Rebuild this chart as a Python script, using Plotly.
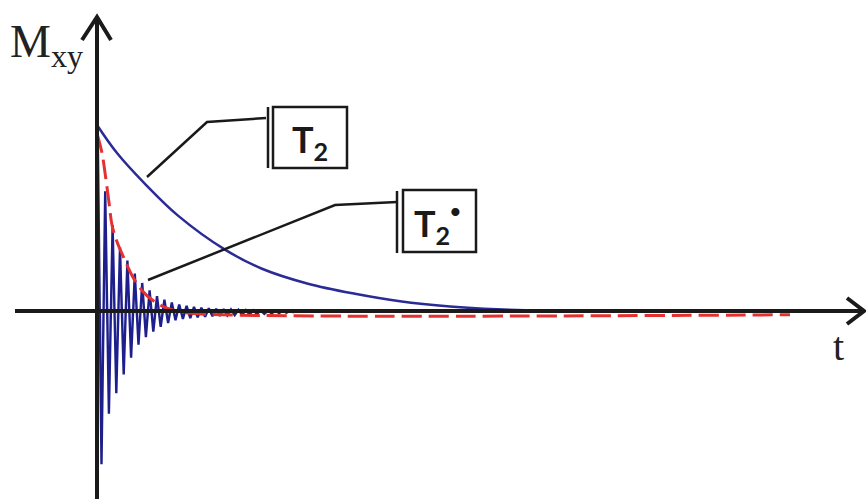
"""FID / T2 と T2* の減衰を示す模式図 (Plotly)."""

import plotly.graph_objects as go

# T2 減衰曲線 (横: 時間 t, 縦: Mxy, 初期値 ≈ 1)
t2_time = [0, 2, 4.8, 8.1, 12.8, 16.5, 21.1, 25.8, 30.3, 35.3, 40, 45, 50, 60, 69.3]
t2_mxy = [0.995, 0.845, 0.68, 0.51, 0.328, 0.226, 0.146, 0.092, 0.052, 0.024, 0.009,
          0.002, 0.0, 0.0, 0.0]

# T2* 包絡線 (赤破線)
t2s_time = [0, 0.5, 0.8, 1.2, 1.5, 2, 2.8, 3.5, 4.5, 5.5, 6.8, 8, 10, 69.3]
t2s_mxy = [0.95, 0.845, 0.74, 0.58, 0.46, 0.37, 0.27, 0.19, 0.11, 0.06, 0.02, 0.0, -0.015, -0.02]

# FID の極値 (正負が交互)
fid_time = [0.08, 0.45, 0.82, 1.19, 1.56, 1.93, 2.30, 2.67, 3.04, 3.41, 3.78, 4.15,
            4.52, 4.89, 5.26, 5.63, 6.00, 6.37, 6.74, 7.11, 7.48, 7.85, 8.22, 8.59,
            8.96, 9.33, 9.70, 10.07, 10.44, 10.81, 11.18, 11.55, 11.92, 12.29, 12.66,
            13.03, 13.40, 13.77, 14.14, 14.51, 14.88, 15.25, 15.62, 15.99, 16.36,
            16.73, 17.10, 17.47, 17.84, 18.21, 18.58, 18.95, 19.32, 19.69]
fid_mxy = [0.93, -0.82, 0.64, -0.55, 0.46, -0.44, 0.34, -0.34, 0.27, -0.25, 0.20, -0.18,
           0.15, -0.14, 0.11, -0.11, 0.08, -0.085, 0.06, -0.065, 0.045, -0.05, 0.035, -0.042,
           0.028, -0.038, 0.022, -0.034, 0.018, -0.031, 0.015, -0.028, 0.012, -0.026, 0.010,
           -0.024, 0.008, -0.022, 0.006, -0.020, 0.005, -0.018, 0.004, -0.016, 0.003,
           -0.015, 0.002, -0.013, 0.002, -0.011, 0.001, -0.009, 0.001, -0.007]

W, H = 866, 499
X0, Y0 = 97, 311          # 原点のピクセル位置
SX, SY = 10, 187          # 1 単位あたりのピクセル


def px(x):
    return (x - X0) / SX


def py(y):
    return (Y0 - y) / SY


BLUE = "#2b2b95"
FID_BLUE = "#1e1e8c"
RED = "#e53030"
INK = "#1a1a1a"

fig = go.Figure()

fig.add_trace(go.Scatter(
    x=fid_time, y=fid_mxy, mode="lines",
    line={"color": FID_BLUE, "width": 2.4},
    fill="tozeroy", fillcolor="rgba(70, 70, 180, 0.18)",
    hoverinfo="skip",
))
fig.add_trace(go.Scatter(
    x=t2s_time, y=t2s_mxy, mode="lines",
    line={"color": RED, "width": 3, "dash": "20px,7px", "shape": "spline"},
    hoverinfo="skip",
))
fig.add_trace(go.Scatter(
    x=t2_time, y=t2_mxy, mode="lines",
    line={"color": BLUE, "width": 2.5, "shape": "spline"},
    hoverinfo="skip",
))


def seg(points, width=2.5, color=INK):
    path = "M " + " L ".join(f"{px(a)},{py(b)}" for a, b in points)
    fig.add_shape(type="path", path=path, xref="x", yref="y",
                  line={"color": color, "width": width})


# 座標軸と矢印
seg([(97, 499), (97, 18)], width=4)
seg([(82, 40), (97, 17), (111, 40)], width=4)
seg([(15, 311), (862, 311)], width=4)
seg([(847, 298), (864, 311), (847, 324)], width=4)

# 引き出し線とラベル枠
seg([(147, 177), (207, 122), (266, 118)])
seg([(268, 107), (268, 168)])
fig.add_shape(type="rect", x0=px(273), x1=px(347), y0=py(107), y1=py(168),
              line={"color": INK, "width": 2.5})

seg([(148, 280), (335, 205), (397, 202)])
seg([(397, 191), (397, 253)])
fig.add_shape(type="rect", x0=px(403), x1=px(476), y0=py(190), y1=py(252),
              line={"color": INK, "width": 2.5})

LABEL_FONT = {"family": "Lato", "size": 36, "color": INK, "weight": "bold"}
fig.add_annotation(x=px(310), y=py(141), text="T<sub>2</sub>", showarrow=False,
                   font=LABEL_FONT, xanchor="center", yanchor="middle")
fig.add_annotation(x=px(432), y=py(225), text="T<sub>2</sub>", showarrow=False,
                   font=LABEL_FONT, xanchor="center", yanchor="middle")
fig.add_annotation(x=px(455), y=py(210), text="•", showarrow=False,
                   font={"family": "Lato", "size": 22, "color": INK},
                   xanchor="center", yanchor="middle")

fig.add_annotation(x=px(8), y=py(45), text="M<sub>xy</sub>", showarrow=False,
                   font={"family": "Liberation Serif", "size": 46, "color": "#222"},
                   xanchor="left", yanchor="middle")
fig.add_annotation(x=px(838), y=py(346), text="t", showarrow=False,
                   font={"family": "Liberation Serif", "size": 40, "color": "#222"},
                   xanchor="center", yanchor="middle")

fig.update_layout(
    width=W, height=H,
    margin={"l": 0, "r": 0, "t": 0, "b": 0},
    showlegend=False,
    paper_bgcolor="white",
    plot_bgcolor="white",
    xaxis={"range": [px(0), px(W)], "visible": False, "fixedrange": True},
    yaxis={"range": [py(H), py(0)], "visible": False, "fixedrange": True},
)

fig.write_html("out.html", config={"displayModeBar": False},
               post_script="document.body.style.margin='0px';")
